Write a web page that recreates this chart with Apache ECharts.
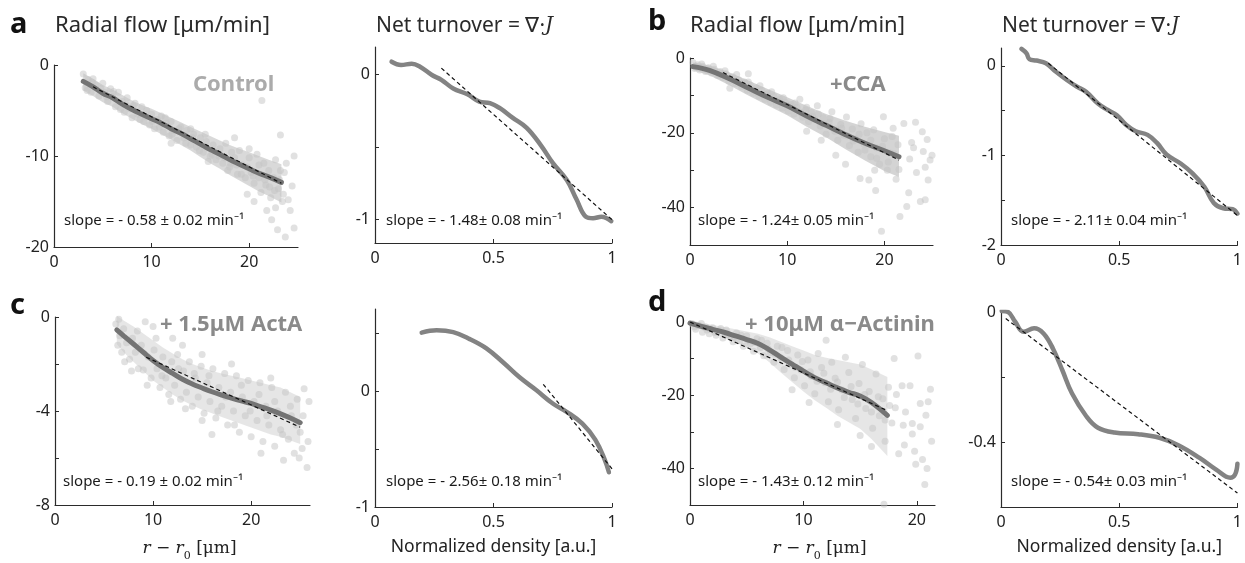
<!DOCTYPE html>
<html>
<head>
<meta charset="utf-8">
<script src="https://cdn.jsdelivr.net/npm/echarts@6/dist/echarts.min.js"></script>
<style>
  html, body { margin: 0; padding: 0; background: #fff; }
  #chart { width: 1245px; height: 563px; }
</style>
</head>
<body>
<div id="chart"></div>
<script>
// ---- radial flow, Control (a) ----
const ctrlMeanX = [3, 4, 5, 6, 7, 8, 9, 10, 11, 12, 13, 14, 15, 16, 17, 18, 19, 20, 21, 22, 23.3];
const ctrlMeanY = [-1.8, -2.4, -3.1, -3.6, -4.3, -4.9, -5.4, -5.9, -6.4, -7.0, -7.5, -8.1, -8.7, -9.3, -9.8, -10.4, -10.9, -11.4, -11.9, -12.3, -12.9];
const ctrlBandHi = [-0.9, -1.5, -2.2, -2.7, -3.3, -3.9, -4.4, -4.8, -5.3, -5.8, -6.3, -6.8, -7.3, -7.8, -8.3, -8.8, -9.2, -9.6, -10.0, -10.4, -10.9];
const ctrlBandLo = [-2.8, -3.4, -4.1, -4.6, -5.3, -5.9, -6.5, -7.0, -7.6, -8.2, -8.8, -9.4, -10.1, -10.8, -11.4, -12.1, -12.7, -13.3, -13.9, -14.4, -15.1];
const ctrlFit = [[4, -2.4], [23.3, -13.0]];
const ctrlPts = [[3,-1.0],[3.2,-2.5],[3.5,-1.6],[3.8,-3.0],[4,-1.5],[4.3,-2.2],[4.6,-3.4],[5,-2.0],[5.2,-3.0],[5.5,-4.0],[5.8,-2.6],[6,-3.5],[6.3,-4.6],[6.6,-3.0],[7,-4.0],[7.2,-5.2],[7.5,-3.6],[7.8,-4.8],[8,-5.8],[8.3,-4.2],[8.6,-5.4],[9,-4.6],[9.2,-6.2],[9.5,-5.0],[9.8,-6.6],[10,-5.4],[10.3,-7.0],[10.6,-6.0],[11,-5.6],[11.2,-7.4],[11.5,-6.4],[11.8,-7.8],[12,-6.2],[12.3,-7.2],[12.6,-8.3],[13,-6.8],[13.3,-8.0],[13.6,-7.2],[14,-8.8],[14.3,-7.6],[14.6,-9.0],[15,-8.0],[15.3,-9.6],[15.6,-8.4],[16,-10.0],[16.3,-8.8],[16.6,-10.4],[17,-9.2],[17.3,-10.8],[17.6,-8.6],[18,-11.2],[18.2,-9.6],[18.5,-10.2],[18.8,-12.0],[19,-9.4],[19.3,-11.0],[19.6,-12.4],[20,-10.2],[20.2,-11.8],[20.5,-13.0],[20.8,-9.8],[21,-12.4],[21.2,-14.0],[21.5,-10.8],[21.7,-13.2],[22,-11.6],[22.2,-14.6],[22.5,-12.4],[22.7,-10.4],[23,-13.6],[23.2,-11.6],[23.4,-15.0],[21.3,-3.9],[24.6,-10.0],[24.6,-17.9],[23.7,-18.9],[22.9,-18.1],[22.3,-17.0],[22.7,-15.7],[24.4,-13.3],[23.6,-11.8],[23.2,-7.7],[24,-14.8],[19.8,-14.2],[20.5,-15.0],[18.5,-8.0],[21.8,-16.0],
  [3.4,-2.8],[3.9,-1.9],[4.8,-2.6],[5.4,-3.5],[6.1,-2.9],[6.8,-4.9],[7.4,-4.4],[8.1,-4.5],[8.8,-6.0],[9.4,-5.7],[10.1,-6.2],[10.8,-6.8],[11.4,-5.8],[12.1,-7.6],[12.8,-7.0],[13.5,-8.6],[14.2,-8.0],[14.9,-9.4],[15.5,-7.6],[16.2,-9.8],[16.9,-10.0],[17.5,-10.2],[18.1,-10.8],[18.7,-11.0],[19.2,-12.0],[19.8,-11.2],[20.4,-12.2],[21.0,-11.0],[21.6,-12.6],[22.1,-13.4],[22.6,-13.8],[23.1,-12.6],[23.5,-14.2],[23.8,-10.8],[24.2,-16.0],[20.0,-9.2],[17.8,-11.6],[15.8,-10.6],[14.0,-7.0],[12.0,-8.6]];

// ---- radial flow, +CCA (b) ----
const ccaMeanX = [0.3, 2, 4, 6, 8, 10, 12, 14, 16, 18, 20, 21.5];
const ccaMeanY = [-2.3, -3.3, -5.5, -8.0, -10.5, -12.8, -15.5, -18.0, -20.5, -22.8, -24.8, -26.4];
const ccaBandHi = [-1.2, -2.0, -3.8, -6.0, -8.3, -10.5, -12.8, -15.0, -16.8, -18.4, -19.8, -20.8];
const ccaBandLo = [-3.2, -4.6, -7.2, -10.0, -12.7, -15.3, -18.4, -21.2, -24.4, -27.4, -30.2, -31.8];
const ccaFit = [[3.4, -3.9], [21.5, -27.3]];
const ccaPts = [[0.3,-1.2],[0.5,-2.8],[0.8,-1.8],[1.0,-3.2],[1.3,-2.2],[1.6,-3.6],[1.9,-2.6],[2.2,-4.0],[2.5,-3.0],[2.8,-4.6],[3.1,-3.6],[3.4,-5.2],[3.7,-4.2],[4.0,-6.2],[4.1,-8.1],[4.4,-5.0],[4.7,-6.8],[5.0,-5.8],[5.3,-7.6],[5.6,-6.4],[5.9,-8.6],[6.2,-7.2],[6.5,-9.4],[6.8,-8.0],[7.1,-10.2],[7.4,-8.6],[7.7,-11.0],[8.0,-9.4],[8.3,-11.8],[8.6,-10.2],[8.9,-12.6],[9.2,-11.0],[9.5,-13.4],[9.8,-11.8],[10.1,-14.2],[10.4,-12.4],[10.7,-15.0],[11.0,-13.2],[11.3,-11.0],[11.6,-15.8],[11.9,-14.0],[12.2,-17.0],[12.5,-14.6],[12.8,-16.4],[13.1,-12.8],[13.4,-18.2],[13.7,-16.0],[14.0,-20.4],[14.3,-17.2],[14.6,-14.4],[14.9,-19.6],[15.2,-22.0],[15.5,-17.8],[15.8,-20.6],[16.1,-15.8],[16.4,-23.4],[16.7,-19.0],[17.0,-21.6],[17.3,-25.2],[17.6,-17.6],[17.9,-23.0],[18.2,-20.0],[18.4,-32.6],[18.6,-26.4],[18.9,-19.2],[19.1,-35.4],[19.2,-24.0],[19.5,-28.4],[19.7,-46.3],[19.9,-15.7],[20.0,-21.6],[20.3,-30.0],[20.6,-25.4],[20.9,-18.8],[21.2,-32.4],[21.4,-23.2],[21.6,-42.4],[22.0,-17.5],[22.3,-39.7],[22.5,-36.0],[22.6,-27.0],[22.8,-22.6],[23.2,-17.2],[23.3,-30.6],[23.7,-38.4],[23.9,-19.7],[24.0,-25.0],[24.2,-29.2],[24.2,-37.9],[24.5,-32.6],[24.7,-27.3],[24.9,-26.0],[17.5,-32.2],[16.0,-28.4],[15.0,-26.0],[13.5,-22.0],[12.0,-19.6],[6.0,-4.2],
  [0.6,-2.2],[1.2,-1.6],[1.8,-3.2],[2.4,-2.2],[3.0,-4.6],[3.6,-3.4],[4.2,-5.4],[4.8,-4.4],[5.4,-6.8],[6.0,-6.4],[6.6,-8.6],[7.2,-7.4],[7.8,-9.8],[8.4,-9.0],[9.0,-11.4],[9.6,-10.6],[10.2,-12.8],[10.8,-12.0],[11.4,-14.6],[12.0,-13.2],[12.6,-15.6],[13.2,-15.0],[13.8,-17.6],[14.4,-16.2],[15.0,-19.0],[15.6,-18.8],[16.2,-20.8],[16.8,-22.2],[17.4,-20.4],[18.0,-24.6],[18.6,-22.0],[19.2,-26.8],[19.8,-23.6],[20.4,-27.8],[21.0,-25.6],[21.5,-29.8],[20.8,-21.0],[19.0,-30.0],[23.0,-24.0],[24.4,-21.8]];

// ---- radial flow, +1.5uM ActA (c) ----
const actaMeanX = [6.3, 7, 8, 9, 10, 11, 12, 13, 14, 15, 16, 17, 18, 19, 20, 21, 22, 23, 24, 25];
const actaMeanY = [-0.55, -0.8, -1.15, -1.5, -1.85, -2.15, -2.4, -2.65, -2.85, -3.02, -3.18, -3.32, -3.45, -3.57, -3.68, -3.82, -3.96, -4.12, -4.3, -4.5];
const actaBandHi = [0.05, -0.15, -0.4, -0.7, -1.0, -1.3, -1.55, -1.8, -2.0, -2.15, -2.3, -2.4, -2.5, -2.6, -2.7, -2.8, -2.9, -3.0, -3.2, -3.4];
const actaBandLo = [-1.15, -1.5, -1.9, -2.3, -2.7, -3.0, -3.3, -3.55, -3.75, -3.95, -4.1, -4.25, -4.4, -4.55, -4.7, -4.85, -5.0, -5.1, -5.25, -5.4];
const actaFit = [[9.3, -1.71], [25, -4.69]];
const actaPts = [[6.2,-0.3],[6.4,-1.2],[6.6,-0.8],[6.8,-1.5],[7.0,-0.5],[7.3,-1.1],[7.6,-1.8],[7.9,-0.9],[8.2,-1.5],[8.5,-2.2],[8.8,-1.2],[9.0,-2.25],[9.2,-0.2],[9.5,-1.7],[9.8,-2.6],[10.1,-1.4],[10.4,-2.2],[10.7,-3.0],[11.0,-1.7],[11.3,-2.6],[11.6,-3.3],[11.9,-1.9],[12.2,-2.9],[12.5,-1.6],[12.8,-3.5],[13.1,-2.3],[13.4,-3.2],[13.7,-1.9],[14.0,-3.8],[14.3,-2.6],[14.6,-3.4],[14.9,-2.1],[15.2,-4.1],[15.5,-2.8],[15.8,-3.6],[16.1,-2.2],[16.4,-4.3],[16.7,-3.0],[17.0,-3.8],[17.3,-2.4],[17.6,-4.6],[17.9,-3.2],[18.2,-4.0],[18.5,-2.5],[18.8,-4.9],[19.1,-3.4],[19.4,-4.2],[19.7,-2.7],[20.0,-5.1],[20.3,-3.6],[20.6,-4.4],[20.9,-2.8],[21.2,-5.3],[21.5,-3.8],[21.8,-4.6],[22.1,-3.0],[22.4,-5.5],[22.7,-4.0],[23.0,-4.8],[23.3,-6.1],[23.5,-3.2],[23.8,-5.2],[24.1,-4.2],[24.4,-5.8],[24.7,-3.5],[25.0,-4.9],[25.4,-3.05],[25.7,-6.4],[25.8,-5.3],[25.2,-5.6],[24.9,-6.0],[15.0,-1.6],[12.0,-0.9],[10.0,-0.4],[22.0,-2.6],
  [6.5,-0.1],[7.1,-1.9],[7.8,-2.3],[8.4,-0.6],[9.4,-2.9],[10.3,-0.9],[10.9,-2.5],[11.8,-3.6],[12.6,-2.2],[13.3,-3.9],[14.2,-2.4],[15.0,-4.4],[15.7,-2.5],[16.6,-4.0],[17.4,-3.4],[18.3,-4.6],[19.0,-2.9],[19.9,-4.0],[20.8,-3.3],[21.6,-4.2],[22.4,-3.6],[23.2,-5.0],[24.0,-3.8],[24.6,-4.6],[25.3,-4.2],[25.9,-3.6],[13.0,-1.2],[18.0,-2.0],[21.0,-5.8],[16.0,-5.0]];

// ---- radial flow, +10uM alpha-actinin (d) ----
const actnMeanX = [0, 1, 2, 3, 4, 5, 6, 7, 8, 9, 10, 11, 12, 13, 14, 15, 16, 17.4];
const actnMeanY = [-0.3, -1.2, -2.0, -2.8, -3.8, -4.8, -5.9, -7.6, -9.6, -11.5, -13.4, -15.2, -16.6, -18.0, -19.2, -20.2, -22.0, -25.5];
const actnBandHi = [0.5, -0.2, -0.8, -1.4, -2.0, -2.6, -3.2, -4.2, -5.4, -6.6, -7.8, -9.0, -9.8, -10.4, -11.0, -11.6, -13.0, -15.0];
const actnBandLo = [-1.1, -2.2, -3.2, -4.2, -5.6, -7.0, -8.6, -11.0, -13.8, -16.4, -19.0, -21.4, -23.4, -25.6, -27.4, -29.2, -32.0, -36.6];
const actnFit = [[0, 0], [17.4, -24.2]];
const actnPts = [[0.2,-0.5],[0.5,-2.0],[0.8,-1.0],[1.1,-2.8],[1.4,-1.4],[1.7,-3.2],[2.0,-1.6],[2.3,-3.6],[2.6,-2.4],[2.9,-4.4],[3.2,-2.2],[3.5,-4.0],[3.8,-5.4],[4.1,-3.0],[4.4,-5.0],[4.7,-6.6],[5.0,-3.8],[5.3,-6.0],[5.6,-8.0],[5.9,-4.6],[6.2,-7.0],[6.5,-9.2],[6.8,-5.8],[7.1,-8.4],[7.4,-11.0],[7.7,-6.6],[8.0,-9.8],[8.3,-13.0],[8.6,-7.8],[8.9,-11.6],[9.2,-15.2],[9.5,-9.0],[9.8,-13.2],[10.1,-17.4],[10.4,-10.4],[10.7,-14.8],[11.0,-19.6],[11.3,-8.6],[11.6,-12.4],[11.9,-16.6],[12.2,-21.8],[12.5,-11.0],[12.8,-15.4],[13.1,-24.0],[13.4,-18.6],[13.7,-9.6],[14.0,-13.8],[14.3,-21.2],[14.6,-26.4],[14.9,-16.8],[15.2,-11.6],[15.5,-23.6],[15.8,-19.0],[16.1,-29.0],[16.4,-14.2],[16.7,-25.6],[17.0,-21.0],[17.1,-49.8],[17.2,-32.6],[17.5,-17.8],[17.8,-27.6],[18.1,-23.4],[18.4,-36.0],[18.7,-17.4],[18.8,-28.2],[19.4,-17.4],[19.6,-27.7],[19.8,-35.3],[19.9,-38.9],[20.1,-9.3],[20.3,-22.3],[20.5,-37.6],[20.7,-44.4],[20.8,-25.5],[21.0,-21.8],[21.3,-32.6],[16.0,-34.0],[15.0,-31.0],[13.0,-28.0],[10.5,-22.0],[9.0,-18.5],[12.0,-5.0],[18.0,-10.0],
  [0.4,-1.3],[1.0,-0.4],[1.5,-2.2],[2.2,-2.9],[2.7,-1.8],[3.3,-3.4],[3.9,-4.2],[4.5,-3.6],[5.1,-5.2],[5.7,-5.6],[6.3,-5.0],[6.9,-7.4],[7.5,-8.8],[8.1,-7.0],[8.7,-10.4],[9.3,-12.4],[9.9,-10.8],[10.6,-13.6],[11.2,-16.2],[11.8,-14.0],[12.4,-18.4],[13.0,-16.4],[13.6,-20.6],[14.2,-17.6],[14.8,-22.4],[15.4,-19.8],[16.0,-24.6],[16.6,-20.4],[17.2,-26.8],[17.6,-22.8],[18.2,-19.8],[19.0,-24.6],[19.6,-30.6],[20.3,-28.6],[21.2,-18.4],[20.9,-40.0],[18.9,-33.6]];

// ---- net turnover curves vs normalized density ----
const turnCtrlX = [0.07, 0.11, 0.155, 0.19, 0.24, 0.28, 0.33, 0.39, 0.44, 0.485, 0.527, 0.58, 0.64, 0.70, 0.75, 0.81, 0.85, 0.89, 0.92, 0.955, 0.997];
const turnCtrlY = [0.084, 0.062, 0.07, 0.05, -0.007, -0.04, -0.10, -0.14, -0.19, -0.20, -0.235, -0.30, -0.37, -0.49, -0.61, -0.73, -0.86, -0.98, -0.99, -0.98, -1.01];
const turnCtrlFit = [[0.28, 0.04], [1.0, -1.0]];

const turnCcaX = [0.087, 0.108, 0.12, 0.15, 0.19, 0.23, 0.28, 0.32, 0.36, 0.41, 0.45, 0.49, 0.53, 0.57, 0.62, 0.66, 0.70, 0.76, 0.81, 0.86, 0.90, 0.94, 0.98, 1.0];
const turnCcaY = [0.19, 0.14, 0.075, 0.06, 0.03, -0.06, -0.16, -0.23, -0.29, -0.42, -0.49, -0.55, -0.66, -0.73, -0.77, -0.86, -0.99, -1.09, -1.20, -1.35, -1.53, -1.59, -1.60, -1.65];
const turnCcaFit = [[0.2, 0.03], [1.0, -1.67]];

const turnActaX = [0.197, 0.26, 0.33, 0.40, 0.47, 0.54, 0.61, 0.68, 0.75, 0.81, 0.875, 0.93, 0.97, 0.987];
const turnActaY = [0.506, 0.526, 0.51, 0.45, 0.37, 0.25, 0.12, 0.01, -0.106, -0.18, -0.28, -0.42, -0.595, -0.70];
const turnActaFit = [[0.71, 0.06], [1.0, -0.67]];

const turnActnX = [0.003, 0.03, 0.06, 0.095, 0.14, 0.18, 0.22, 0.26, 0.30, 0.36, 0.41, 0.48, 0.58, 0.67, 0.75, 0.84, 0.91, 0.97, 0.99, 1.0];
const turnActnY = [0.003, 0, -0.03, -0.061, -0.05, -0.066, -0.113, -0.18, -0.25, -0.32, -0.356, -0.371, -0.376, -0.387, -0.41, -0.449, -0.485, -0.51, -0.50, -0.467];
const turnActnFit = [[0.02, -0.02], [1.0, -0.557]];

// ---- tick values ----
const flowXLabels = [0, 10, 20];
const densXLabels = [0, 0.5, 1];
const densXTicks = [0, 0.5, 1];
const ctrlYTicks = [0, -10, -20];
const ctrlYLabels = [0, -10, -20];
const ccaYTicks = [0, -10, -20, -30, -40, -50];
const ccaYLabels = [0, -20, -40];
const actaYTicks = [0, -2, -4, -6, -8];
const actaYLabels = [0, -4, -8];
const actnYTicks = [0, -10, -20, -30, -40, -50];
const actnYLabels = [0, -20, -40];
const tCtrlYTicks = [0, -0.5, -1];
const tCtrlYLabels = [0, -1];
const tCcaYTicks = [0, -0.5, -1, -1.5, -2];
const tCcaYLabels = [0, -1, -2];
const tActaYTicks = [0.5, 0, -0.5, -1];
const tActaYLabels = [0, -1];
const tActnYTicks = [0, -0.2, -0.4, -0.6];
const tActnYLabels = [0, -0.4];

const FONT = 'Noto Sans';
const AXIS_COLOR = '#2b2b2b';

const zip = (xs, ys) => xs.map((x, i) => [x, ys[i]]);

const grids = [
  { left: 54, top: 65, width: 244, height: 182 },
  { left: 375, top: 47, width: 237, height: 196 },
  { left: 690, top: 58, width: 243, height: 187 },
  { left: 1001, top: 48, width: 237, height: 197 },
  { left: 55, top: 317, width: 255, height: 189 },
  { left: 375, top: 309, width: 237, height: 198 },
  { left: 690, top: 322, width: 245, height: 186 },
  { left: 1001, top: 312, width: 237, height: 195 }
];

function axisBase(i) {
  return {
    gridIndex: i,
    type: 'value',
    axisLine: { show: true, onZero: false, lineStyle: { color: AXIS_COLOR, width: 1.2 } },
    splitLine: { show: false },
    axisLabel: { color: '#222', fontFamily: FONT, fontSize: 16, margin: 5 },
    axisTick: { show: true, inside: true, length: 4, lineStyle: { color: AXIS_COLOR } }
  };
}

function xAx(i, min, max, ticks, labels, name) {
  const a = axisBase(i);
  a.min = min; a.max = max;
  a.axisTick.customValues = ticks;
  a.axisLabel.customValues = labels;
  a.axisLabel.margin = 7;
  if (name) {
    a.name = name;
    a.nameLocation = 'middle';
    a.nameGap = 31;
  }
  return a;
}

function yAx(i, min, max, ticks, labels) {
  const a = axisBase(i);
  a.min = min; a.max = max;
  a.axisTick.customValues = ticks;
  a.axisLabel.customValues = labels;
  return a;
}

const rName = '{i|r − r}{s|0}{n| [μm]}';
const rRich = {
  i: { fontFamily: 'DejaVu Serif', fontStyle: 'italic', fontSize: 17, color: '#222', verticalAlign: 'middle', lineHeight: 26 },
  s: { fontFamily: 'DejaVu Serif', fontSize: 11, color: '#222', verticalAlign: 'bottom', lineHeight: 14 },
  n: { fontFamily: 'DejaVu Serif', fontSize: 17, color: '#222', verticalAlign: 'middle', lineHeight: 26 }
};
const dName = 'Normalized density [a.u.]';

const xAxes = [
  xAx(0, 0, 25, flowXLabels, flowXLabels),
  xAx(1, 0, 1, densXTicks, densXLabels),
  xAx(2, 0, 25, flowXLabels, flowXLabels),
  xAx(3, 0, 1, densXTicks, densXLabels),
  xAx(4, 0, 26, flowXLabels, flowXLabels, rName),
  xAx(5, 0, 1, densXTicks, densXLabels, dName),
  xAx(6, 0, 21.6, flowXLabels, flowXLabels, rName),
  xAx(7, 0, 1, densXTicks, densXLabels, dName)
];
[4, 6].forEach(k => { xAxes[k].nameTextStyle = { rich: rRich, padding: [0, 0, 0, 14] }; });
[5, 7].forEach(k => { xAxes[k].nameTextStyle = { fontFamily: FONT, fontSize: 17.5, color: '#222' }; });

const yAxes = [
  yAx(0, -20, 0, ctrlYTicks, ctrlYLabels),
  yAx(1, -1.16, 0.185, tCtrlYTicks, tCtrlYLabels),
  yAx(2, -50, 0, ccaYTicks, ccaYLabels),
  yAx(3, -2, 0.2, tCcaYTicks, tCcaYLabels),
  yAx(4, -8, 0, actaYTicks, actaYLabels),
  yAx(5, -1, 0.71, tActaYTicks, tActaYLabels),
  yAx(6, -50, 0, actnYTicks, actnYLabels),
  yAx(7, -0.6, 0, tActnYTicks, tActnYLabels)
];

function bandSeries(i, xs, hi, lo, fill) {
  const poly = zip(xs, hi).concat(zip(xs, lo).reverse());
  return {
    type: 'custom', xAxisIndex: i, yAxisIndex: i, silent: true, z: 1,
    data: [poly[0]],
    renderItem: (params, api) => ({
      type: 'polygon',
      shape: { points: poly.map(p => api.coord(p)) },
      style: { fill: fill }
    })
  };
}

function scatterSeries(i, pts) {
  return {
    type: 'scatter', xAxisIndex: i, yAxisIndex: i, silent: true, z: 2,
    symbolSize: 7, data: pts,
    itemStyle: { color: '#c4c4c4', opacity: 0.5 }
  };
}

function meanSeries(i, xs, ys, color, width) {
  return {
    type: 'line', xAxisIndex: i, yAxisIndex: i, silent: true, z: 3,
    data: zip(xs, ys), showSymbol: false, smooth: 0.4,
    lineStyle: { color: color, width: width, cap: 'round' }
  };
}

function fitSeries(i, pts) {
  return {
    type: 'line', xAxisIndex: i, yAxisIndex: i, silent: true, z: 4,
    data: pts, showSymbol: false,
    lineStyle: { color: '#111', width: 1.2, type: [4, 3] }
  };
}

const series = [
  bandSeries(0, ctrlMeanX, ctrlBandHi, ctrlBandLo, 'rgba(170,170,170,0.45)'),
  scatterSeries(0, ctrlPts),
  meanSeries(0, ctrlMeanX, ctrlMeanY, '#747474', 5),
  fitSeries(0, ctrlFit),

  meanSeries(1, turnCtrlX, turnCtrlY, '#838383', 4.5),
  fitSeries(1, turnCtrlFit),

  bandSeries(2, ccaMeanX, ccaBandHi, ccaBandLo, 'rgba(160,160,160,0.45)'),
  scatterSeries(2, ccaPts),
  meanSeries(2, ccaMeanX, ccaMeanY, '#747474', 5),
  fitSeries(2, ccaFit),

  meanSeries(3, turnCcaX, turnCcaY, '#838383', 4.5),
  fitSeries(3, turnCcaFit),

  bandSeries(4, actaMeanX, actaBandHi, actaBandLo, 'rgba(200,200,200,0.45)'),
  scatterSeries(4, actaPts),
  meanSeries(4, actaMeanX, actaMeanY, '#747474', 5),
  fitSeries(4, actaFit),

  meanSeries(5, turnActaX, turnActaY, '#838383', 4.5),
  fitSeries(5, turnActaFit),

  bandSeries(6, actnMeanX, actnBandHi, actnBandLo, 'rgba(205,205,205,0.5)'),
  scatterSeries(6, actnPts),
  meanSeries(6, actnMeanX, actnMeanY, '#747474', 5),
  fitSeries(6, actnFit),

  meanSeries(7, turnActnX, turnActnY, '#838383', 4.5),
  fitSeries(7, turnActnFit)
];

function txt(x, y, text, style) {
  return {
    type: 'text', x: x, y: y, silent: true,
    style: Object.assign({ text: text, fill: '#222', fontFamily: FONT, verticalAlign: 'middle' }, style)
  };
}

const letter = { fontSize: 29, fontWeight: 'bold', fill: '#111' };
const head = { fontSize: 22, fill: '#2a2a2a' };
const cond = { fontSize: 22, fontWeight: 'bold' };
const slope = { fontSize: 15, fill: '#1a1a1a' };
const turnRich = {
  rich: {
    a: { fontFamily: FONT, fontSize: 21, fill: '#2a2a2a' },
    j: { fontFamily: 'DejaVu Serif', fontStyle: 'italic', fontSize: 20, fill: '#2a2a2a' }
  }
};

const graphics = [
  txt(10, 25, 'a', letter),
  txt(648, 22, 'b', letter),
  txt(10, 306, 'c', letter),
  txt(648, 303, 'd', letter),

  txt(55, 26, 'Radial flow [μm/min]', head),
  txt(690, 26, 'Radial flow [μm/min]', head),
  txt(376, 26, '{a|Net turnover = ∇·}{j|J}', turnRich),
  txt(1002, 26, '{a|Net turnover = ∇·}{j|J}', turnRich),

  txt(193, 85, 'Control', Object.assign({ fill: '#ababab' }, cond)),
  txt(830, 85, '+CCA', Object.assign({ fill: '#8a8a8a' }, cond)),
  txt(160, 325, '+ 1.5μM ActA', Object.assign({ fill: '#8a8a8a' }, cond)),
  txt(745, 325, '+ 10μM α−Actinin', Object.assign({ fill: '#8a8a8a' }, cond)),

  txt(64, 221, 'slope = - 0.58 ± 0.02 min⁻¹', slope),
  txt(386, 221, 'slope = - 1.48± 0.08 min⁻¹', slope),
  txt(698, 221, 'slope = - 1.24± 0.05 min⁻¹', slope),
  txt(1011, 221, 'slope = - 2.11± 0.04 min⁻¹', slope),
  txt(63, 482, 'slope = - 0.19 ± 0.02 min⁻¹', slope),
  txt(386, 482, 'slope = - 2.56± 0.18 min⁻¹', slope),
  txt(698, 482, 'slope = - 1.43± 0.12 min⁻¹', slope),
  txt(1011, 482, 'slope = - 0.54± 0.03 min⁻¹', slope)
];

const chart = echarts.init(document.getElementById('chart'), null, { renderer: 'canvas' });
chart.setOption({
  animation: false,
  backgroundColor: '#fff',
  grid: grids,
  xAxis: xAxes,
  yAxis: yAxes,
  series: series,
  graphic: graphics
});
</script>
</body>
</html>
